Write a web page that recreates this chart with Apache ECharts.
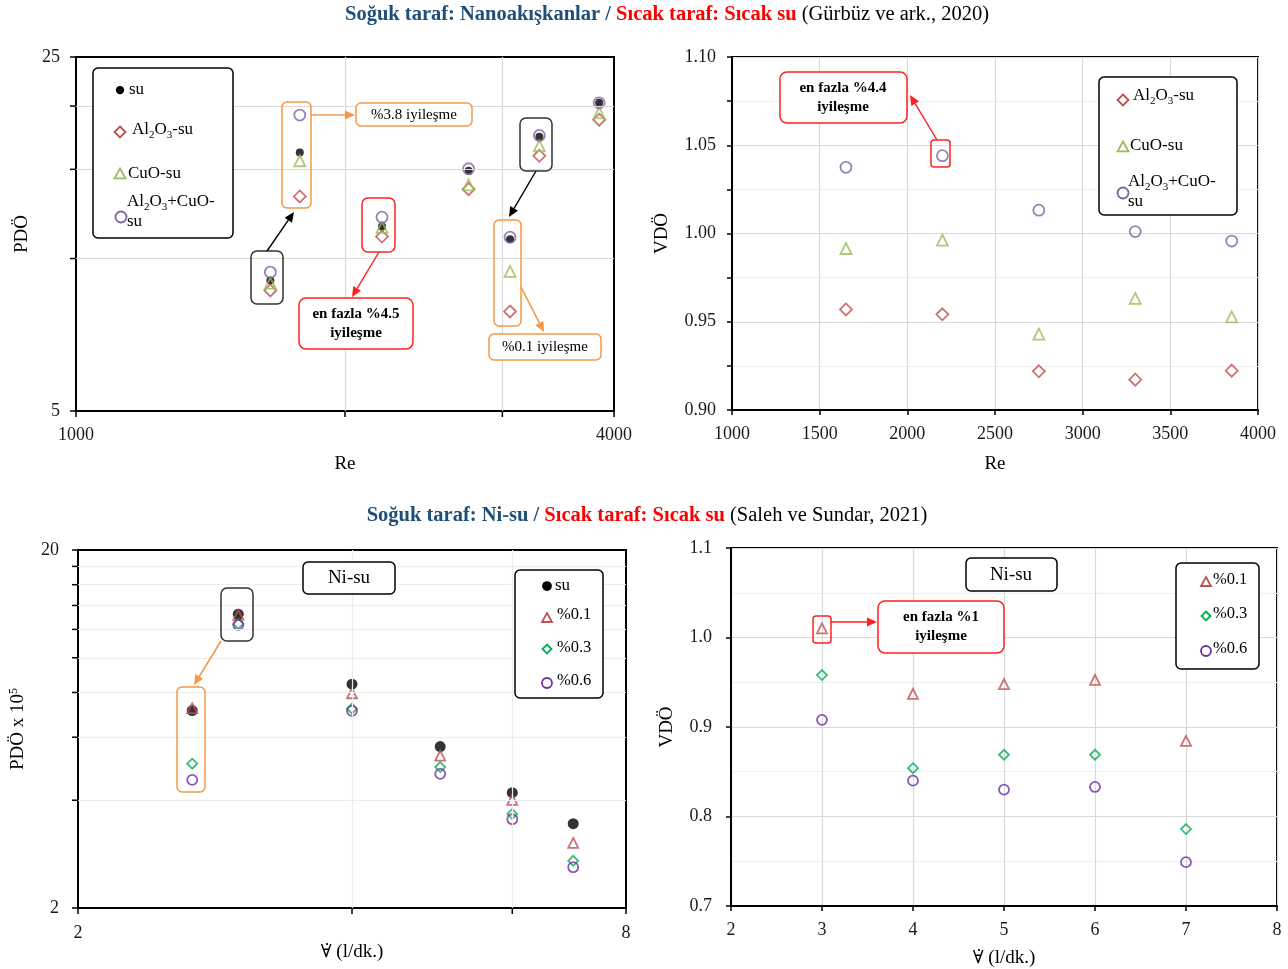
<!DOCTYPE html>
<html><head><meta charset="utf-8">
<script src="https://cdn.jsdelivr.net/npm/echarts@6/dist/echarts.min.js"></script>
<style>html,body{margin:0;padding:0;background:#fff}#c{width:1288px;height:969px}</style>
</head><body><div id="c"></div>
<script>
// ---------- DATA ----------
// Top: Gürbüz ve ark., 2020
const reTop = [1650, 2200, 2750, 3300, 3850];
const pdoSu = [9.05, 11.57, 14.9, 17.4, 20.3];
const pdoAl2O3 = [8.65, 11.05, 13.71, 15.95, 18.8];
const pdoCuO = [8.94, 11.52, 13.98, 16.7, 19.4];
const pdoHybrid = [9.40, 12.07, 15.04, 17.5, 20.3];
// magnified (inset) groups drawn in the top-left panel
const insetRe = [1780, 3060];
const insetPdoSu = [16.2, 10.92];
const insetPdoAl2O3 = [13.26, 7.86];
const insetPdoCuO = [15.6, 9.43];
const insetPdoHybrid = [19.2, 11.02];
const vdoAl2O3 = [0.957, 0.9542, 0.9219, 0.9172, 0.9223];
const vdoCuO = [0.9915, 0.9962, 0.943, 0.9632, 0.9528];
const vdoHybrid = [1.0375, 1.0441, 1.0132, 1.0011, 0.9957];
// Bottom: Saleh ve Sundar, 2021
const flow = [3, 4, 5, 6, 7];
const pdoNiSu = [13.23, 8.44, 5.65, 4.20, 3.44];
const pdoNi01 = [13.17, 7.96, 5.33, 4.01, 3.04];
const pdoNi03 = [12.43, 7.21, 4.95, 3.66, 2.71];
const pdoNi06 = [12.35, 7.11, 4.74, 3.54, 2.60];
const insetFlow = [2.67];
const insetNiSu = [7.12];
const insetNi01 = [7.23];
const insetNi03 = [5.06];
const insetNi06 = [4.56];
const vdoNi01 = [1.0102, 0.937, 0.948, 0.9527, 0.8845];
const vdoNi03 = [0.958, 0.854, 0.869, 0.869, 0.786];
const vdoNi06 = [0.908, 0.840, 0.830, 0.833, 0.749];
// tick labels / gridlines of log axes
const tlXLabels = [1000, 4000], tlXGrid = [2000, 3000];
const tlYLabels = [5, 25], tlYGrid = [10, 15, 20];
const blXLabels = [2, 8], blXGrid = [4, 6];
const blYLabels = [2, 20], blYGrid = [4, 6, 8, 10, 12, 14, 16, 18];

// ---------- STYLE ----------
const FONT = '"Liberation Serif","Times New Roman",serif';
const COL = {su:'#000000', al:'#C0504D', cuo:'#9BBB59', hyb:'#8064A2',
  n01:'#C0504D', n03:'#00B050', n06:'#7030A0', orange:'#F79646', red:'#FF2020', blue:'#1F4E79'};
const chart = echarts.init(document.getElementById('c'), null, {renderer:'canvas'});

const keep = arr => v => { for (const a of arr) if (Math.abs(v - a) < Math.abs(a) * 1e-6) return String(a); return ''; };
const axLine = {show:true, onZero:false, lineStyle:{color:'#000', width:2}};
const lab = (extra) => Object.assign({fontFamily:FONT, fontSize:18, color:'#1a1a1a'}, extra);
const nameStyle = {fontFamily:FONT, fontSize:19, color:'#000'};
const flowName = '{v|\u2200\u0307}{n| (l/dk.)}';
const flowRich = {v:{fontFamily:'"DejaVu Serif"', fontSize:18, color:'#000'}, n:{fontFamily:FONT, fontSize:19, color:'#000'}};

function sc(name, gi, xs, ys, kind, color, size) {
  const hollow = kind !== 'dot';
  return {type:'scatter', name, xAxisIndex:gi, yAxisIndex:gi, z:3, animation:false,
    symbol: kind === 'dot' ? 'circle' : kind, symbolSize:size,
    data: xs.map((x, i) => [x, ys[i]]),
    itemStyle: hollow ? {color:'rgba(255,255,255,0)', borderColor:color, borderWidth:1.8} : {color}};
}
function gridLines(gi, xs, ys, color) {
  return {type:'scatter', xAxisIndex:gi, yAxisIndex:gi, data:[], z:1, silent:true, animation:false,
    markLine:{silent:true, symbol:['none','none'], label:{show:false}, animation:false,
      lineStyle:{color, width:1.2, type:'solid'},
      data: xs.map(v => ({xAxis:v})).concat(ys.map(v => ({yAxis:v})))}};
}

const grids = [
  {left:76, top:57, width:538, height:354},
  {left:732, top:57, width:526, height:353},
  {left:78, top:550, width:548, height:358},
  {left:731, top:548, width:546, height:358}
].map(g => Object.assign({show:true, borderColor:'#000', borderWidth:2, backgroundColor:'transparent', containLabel:false}, g));

const xAxes = [
  {gridIndex:0, type:'log', logBase:10, min:1000, max:4000, axisLine:axLine, axisTick:{show:false}, splitLine:{show:false},
   axisLabel:lab({margin:15, showMinLabel:true, showMaxLabel:true, formatter:keep(tlXLabels)}),
   name:'Re', nameLocation:'middle', nameGap:44, nameTextStyle:nameStyle},
  {gridIndex:1, type:'value', min:1000, max:4000, interval:500, axisLine:axLine,
   axisTick:{show:true, length:5, lineStyle:{color:'#000', width:1.5}},
   splitLine:{show:true, lineStyle:{color:'#D9D9D9', width:1.2}},
   axisLabel:lab({margin:15, formatter:v => String(v)}), name:'Re', nameLocation:'middle', nameGap:45, nameTextStyle:nameStyle},
  {gridIndex:2, type:'log', logBase:10, min:2, max:8, axisLine:axLine, axisTick:{show:false}, splitLine:{show:false},
   axisLabel:lab({margin:16, showMinLabel:true, showMaxLabel:true, formatter:keep(blXLabels)}),
   name:flowName, nameLocation:'middle', nameGap:33, nameTextStyle:Object.assign({}, nameStyle, {rich:flowRich})},
  {gridIndex:3, type:'value', min:2, max:8, interval:1, axisLine:axLine,
   axisTick:{show:true, length:5, lineStyle:{color:'#000', width:1.5}},
   splitLine:{show:true, lineStyle:{color:'#D9D9D9', width:1.2}},
   axisLabel:lab({margin:15, formatter:v => String(v)}), name:flowName, nameLocation:'middle', nameGap:43,
   nameTextStyle:Object.assign({}, nameStyle, {rich:flowRich})}
];
const yAxes = [
  {gridIndex:0, type:'log', logBase:10, min:5, max:25, axisLine:axLine, axisTick:{show:false}, splitLine:{show:false},
   axisLabel:lab({margin:16, showMinLabel:true, showMaxLabel:true, formatter:keep(tlYLabels)}),
   name:'PDÖ', nameLocation:'middle', nameGap:44, nameRotate:90, nameTextStyle:nameStyle},
  {gridIndex:1, type:'value', min:0.9, max:1.1, interval:0.05, axisLine:axLine,
   axisTick:{show:true, length:5, lineStyle:{color:'#000', width:1.5}},
   minorTick:{show:true, splitNumber:2, length:5, lineStyle:{color:'#000', width:1.5}},
   splitLine:{show:true, lineStyle:{color:'#D9D9D9', width:1.2}},
   minorSplitLine:{show:true, lineStyle:{color:'#EFEFEF', width:1.2}},
   axisLabel:lab({margin:16, formatter:v => v.toFixed(2)}),
   name:'VDÖ', nameLocation:'middle', nameGap:60, nameRotate:90, nameTextStyle:nameStyle},
  {gridIndex:2, type:'log', logBase:10, min:2, max:20, axisLine:axLine, axisTick:{show:false}, splitLine:{show:false},
   axisLabel:lab({margin:19, showMinLabel:true, showMaxLabel:true, formatter:keep(blYLabels)}),
   name:'{n|PDÖ x 10}{s|5}', nameLocation:'middle', nameGap:50, nameRotate:90,
   nameTextStyle:Object.assign({}, nameStyle, {rich:{
     n:{fontFamily:FONT, fontSize:19, color:'#000', lineHeight:20, verticalAlign:'bottom'},
     s:{fontFamily:FONT, fontSize:12, color:'#000', lineHeight:8, verticalAlign:'top'}}})},
  {gridIndex:3, type:'value', min:0.7, max:1.1, interval:0.1, axisLine:axLine,
   axisTick:{show:true, length:5, lineStyle:{color:'#000', width:1.5}},
   minorTick:{show:false, splitNumber:2},
   splitLine:{show:true, lineStyle:{color:'#D9D9D9', width:1.2}},
   minorSplitLine:{show:true, lineStyle:{color:'#EFEFEF', width:1.2}},
   axisLabel:lab({margin:19, formatter:v => v.toFixed(1)}),
   name:'VDÖ', nameLocation:'middle', nameGap:54, nameRotate:90, nameTextStyle:nameStyle}
];

const series = [
  gridLines(0, tlXGrid, tlYGrid, '#DADADA'),
  sc('su', 0, reTop.concat(insetRe), pdoSu.concat(insetPdoSu), 'dot', COL.su, 8),
  sc('Al2O3-su', 0, reTop.concat(insetRe), pdoAl2O3.concat(insetPdoAl2O3), 'diamond', COL.al, 12),
  sc('CuO-su', 0, reTop.concat(insetRe), pdoCuO.concat(insetPdoCuO), 'triangle', COL.cuo, 11),
  sc('Al2O3+CuO-su', 0, reTop.concat(insetRe), pdoHybrid.concat(insetPdoHybrid), 'circle', COL.hyb, 11),
  sc('Al2O3-su', 1, reTop, vdoAl2O3, 'diamond', COL.al, 12),
  sc('CuO-su', 1, reTop, vdoCuO, 'triangle', COL.cuo, 11),
  sc('Al2O3+CuO-su', 1, reTop, vdoHybrid, 'circle', COL.hyb, 11),
  gridLines(2, blXGrid, blYGrid, '#EDEDED'),
  sc('su', 2, flow.concat(insetFlow), pdoNiSu.concat(insetNiSu), 'dot', COL.su, 11),
  sc('%0.1', 2, flow.concat(insetFlow), pdoNi01.concat(insetNi01), 'triangle', COL.n01, 10),
  sc('%0.3', 2, flow.concat(insetFlow), pdoNi03.concat(insetNi03), 'diamond', COL.n03, 10),
  sc('%0.6', 2, flow.concat(insetFlow), pdoNi06.concat(insetNi06), 'circle', COL.n06, 10),
  sc('%0.1', 3, flow, vdoNi01, 'triangle', COL.n01, 10),
  sc('%0.3', 3, flow, vdoNi03, 'diamond', COL.n03, 10),
  sc('%0.6', 3, flow, vdoNi06, 'circle', COL.n06, 10)
];

chart.setOption({animation:false, backgroundColor:'#fff', grid:grids, xAxis:xAxes, yAxis:yAxes, series});

// ---------- ANNOTATIONS ----------
const G = [];
const Z = 100;
function rrect(x0, y0, x1, y1, stroke, fill, r, lw) {
  G.push({type:'rect', z:Z, silent:true, shape:{x:x0, y:y0, width:x1 - x0, height:y1 - y0, r:r || 5},
    style:{fill:fill || 'none', stroke, lineWidth:lw || 1.5}});
}
function arrow(x1, y1, x2, y2, color, lw) {
  const a = Math.atan2(y2 - y1, x2 - x1), L = 10, W = 4.5;
  const bx = x2 - L * Math.cos(a), by = y2 - L * Math.sin(a);
  const px = -Math.sin(a) * W, py = Math.cos(a) * W;
  G.push({type:'line', z:Z, silent:true, shape:{x1, y1, x2:bx, y2:by}, style:{stroke:color, lineWidth:lw || 1.4}});
  G.push({type:'polygon', z:Z, silent:true, shape:{points:[[x2, y2], [bx + px, by + py], [bx - px, by - py]]}, style:{fill:color}});
}
function txt(x, y, text, opts) {
  G.push({type:'text', z:Z + 1, silent:true, x, y, style:Object.assign({text, fontFamily:FONT, fontSize:17, fill:'#000',
    align:'left', verticalAlign:'middle'}, opts || {})});
}
function sym(kind, cx, cy, color, s) {
  s = s || 5.5;
  if (kind === 'dot') G.push({type:'circle', z:Z + 1, silent:true, shape:{cx, cy, r:s * 0.75}, style:{fill:color}});
  else if (kind === 'circle') G.push({type:'circle', z:Z + 1, silent:true, shape:{cx, cy, r:s}, style:{fill:'none', stroke:color, lineWidth:1.8}});
  else if (kind === 'diamond') G.push({type:'polygon', z:Z + 1, silent:true, shape:{points:[[cx, cy - s], [cx + s, cy], [cx, cy + s], [cx - s, cy]]}, style:{fill:'none', stroke:color, lineWidth:1.8}});
  else G.push({type:'polygon', z:Z + 1, silent:true, shape:{points:[[cx, cy - s], [cx + s, cy + s * 0.8], [cx - s, cy + s * 0.8]]}, style:{fill:'none', stroke:color, lineWidth:1.8}});
}
const RICH = {
  n:{fontFamily:FONT, fontSize:17, fill:'#000', lineHeight:20, verticalAlign:'top'},
  s:{fontFamily:FONT, fontSize:11, fill:'#000', lineHeight:8, verticalAlign:'bottom'}
};
const AL = '{n|Al}{s|2}{n|O}{s|3}';
const TITLE_RICH = {b:{fontFamily:FONT, fontSize:20.5, fontWeight:'bold', fill:COL.blue},
        r:{fontFamily:FONT, fontSize:20.5, fontWeight:'bold', fill:'#FF0000'},
        n:{fontFamily:FONT, fontSize:20.5, fill:'#000'}};

// titles
G.push({type:'text', z:Z, silent:true, x:667, y:15, style:{
  text:'{b|Soğuk taraf: Nanoakışkanlar / }{r|Sıcak taraf: Sıcak su}{n| (Gürbüz ve ark., 2020)}',
  align:'center', verticalAlign:'middle', rich:TITLE_RICH}});
G.push({type:'text', z:Z, silent:true, x:647, y:516, style:{
  text:'{b|Soğuk taraf: Ni-su / }{r|Sıcak taraf: Sıcak su}{n| (Saleh ve Sundar, 2021)}',
  align:'center', verticalAlign:'middle', rich:TITLE_RICH}});

// --- top-left legend
rrect(93, 68, 233, 238, '#000', '#fff', 0, 1.5);
sym('dot', 120, 90, COL.su, 5.5); txt(129, 90, 'su');
sym('diamond', 120, 132, COL.al, 5.5); txt(132, 131, AL + '{n|-su}', {rich:RICH});
sym('triangle', 120, 174, COL.cuo, 5.5); txt(128, 174, 'CuO-su');
sym('circle', 121, 217, COL.hyb, 5.5); txt(127, 213, AL + '{n|+CuO-}\n{n|su}', {rich:RICH});
// --- top-left annotations
rrect(251, 251, 283, 304, '#333', null, 6);
arrow(267, 251, 294, 212, '#000');
rrect(282, 102, 311, 208, COL.orange, null, 5);
arrow(311, 115, 355, 115, COL.orange, 1.6);
rrect(356, 103, 472, 126, COL.orange, '#fff', 5);
txt(414, 115, '%3.8 iyileşme', {align:'center', fontSize:15});
rrect(362, 198, 395, 252, COL.red, null, 6);
arrow(379, 252, 352, 297, COL.red);
rrect(299, 298, 413, 349, COL.red, '#fff', 7);
txt(356, 324, 'en fazla %4.5\niyileşme', {align:'center', fontSize:15, fontWeight:'bold', lineHeight:19});
rrect(520, 118, 552, 171, '#333', null, 6);
arrow(536, 171, 509, 217, '#000');
rrect(494, 220, 521, 326, COL.orange, null, 5);
arrow(521, 287, 544, 332, COL.orange, 1.6);
rrect(489, 334, 601, 360, COL.orange, '#fff', 5);
txt(545, 347, '%0.1 iyileşme', {align:'center', fontSize:15});

// --- top-right legend + annotation
rrect(1099, 77, 1237, 215, '#000', '#fff', 0, 1.5);
sym('diamond', 1123, 100, COL.al, 5.5); txt(1133, 97, AL + '{n|-su}', {rich:RICH});
sym('triangle', 1123, 147, COL.cuo, 5.5); txt(1130, 146, 'CuO-su');
sym('circle', 1123, 193, COL.hyb, 5.5); txt(1128, 193, AL + '{n|+CuO-}\n{n|su}', {rich:RICH});
rrect(931, 140, 950, 167, COL.red, null, 3);
arrow(937, 140, 910, 95, COL.red);
rrect(780, 72, 907, 123, COL.red, '#fff', 7);
txt(843, 98, 'en fazla %4.4\niyileşme', {align:'center', fontSize:15, fontWeight:'bold', lineHeight:19});

// --- bottom-left
rrect(303, 562, 395, 594, '#000', '#fff', 0, 1.5);
txt(349, 578, 'Ni-su', {align:'center', fontSize:19});
rrect(515, 570, 603, 698, '#000', '#fff', 0, 1.5);
sym('dot', 547, 586, COL.su, 6.5); txt(555, 586, 'su');
sym('triangle', 547, 618, COL.n01, 5); txt(557, 615, '%0.1', {fontSize:16.5});
sym('diamond', 547, 649, COL.n03, 4.5); txt(557, 648, '%0.3', {fontSize:16.5});
sym('circle', 547, 683, COL.n06, 5); txt(557, 681, '%0.6', {fontSize:16.5});
rrect(221, 588, 253, 641, '#333', null, 6);
arrow(221, 641, 194, 685, COL.orange, 1.6);
rrect(177, 687, 205, 792, COL.orange, null, 5);

// --- bottom-right
rrect(966, 558, 1057, 591, '#000', '#fff', 0, 1.5);
txt(1011, 575, 'Ni-su', {align:'center', fontSize:19});
rrect(1176, 563, 1259, 669, '#000', '#fff', 0, 1.5);
sym('triangle', 1206, 582, COL.n01, 5); txt(1213, 580, '%0.1', {fontSize:16.5});
sym('diamond', 1206, 616, COL.n03, 4.5); txt(1213, 614, '%0.3', {fontSize:16.5});
sym('circle', 1206, 651, COL.n06, 5); txt(1213, 649, '%0.6', {fontSize:16.5});
rrect(813, 616, 831, 643, COL.red, null, 3);
arrow(831, 622, 877, 622, COL.red, 1.6);
rrect(878, 601, 1004, 653, COL.red, '#fff', 7);
txt(941, 627, 'en fazla %1\niyileşme', {align:'center', fontSize:15, fontWeight:'bold', lineHeight:19});

// --- tick marks of the log axes (through the axes' own scale)
function logTicks(gi, xmin, ymin, xs, ys) {
  xs.forEach(v => { const p = chart.convertToPixel({gridIndex:gi}, [v, ymin]);
    G.push({type:'line', z:Z, silent:true, shape:{x1:p[0], y1:p[1], x2:p[0], y2:p[1] + 6}, style:{stroke:'#000', lineWidth:1.5}}); });
  ys.forEach(v => { const p = chart.convertToPixel({gridIndex:gi}, [xmin, v]);
    G.push({type:'line', z:Z, silent:true, shape:{x1:p[0] - 6, y1:p[1], x2:p[0], y2:p[1]}, style:{stroke:'#000', lineWidth:1.5}}); });
}
logTicks(0, 1000, 5, tlXLabels.concat(tlXGrid), tlYLabels.concat(tlYGrid));
logTicks(2, 2, 2, blXLabels.concat(blXGrid), blYLabels.concat(blYGrid));

chart.setOption({graphic:{elements:G}});
</script></body></html>
